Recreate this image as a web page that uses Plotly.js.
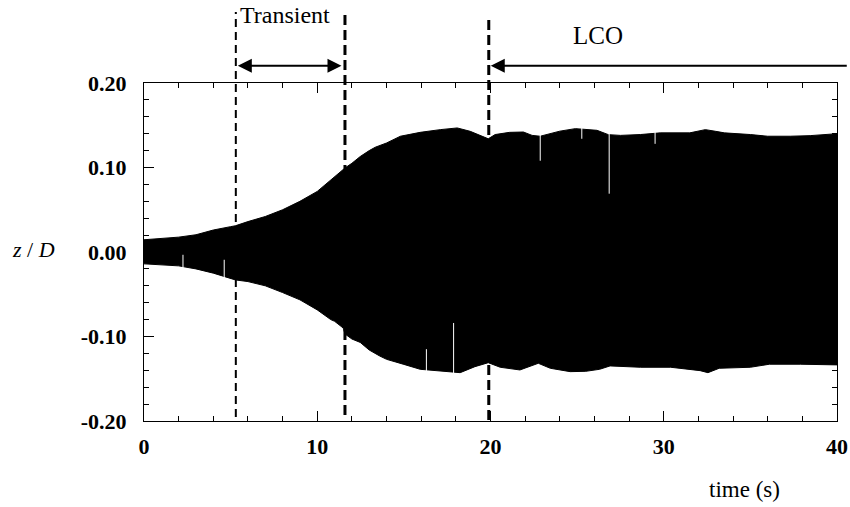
<!DOCTYPE html>
<html>
<head>
<meta charset="utf-8">
<script src="https://cdn.plot.ly/plotly-3.0.1.min.js"></script>
<style>html,body{margin:0;padding:0;background:#fff;}#chart{width:850px;height:507px;}</style>
</head>
<body>
<div id="chart"></div>
<script>
// Upper envelope of z/D oscillation (time s, value)
const upperTime = [0, 1, 2, 3, 4, 5, 5.27, 6, 7, 8, 9, 10, 10.78, 11, 11.6, 12, 12.48, 13, 13.35, 14, 14.2, 14.8, 15.3, 15.94, 17.1, 18.08, 18.83, 19.87, 20.27, 21.1, 21.9, 22.4, 22.87, 24.0, 24.9, 25.3, 26.15, 26.8, 27.5, 28.65, 29.8, 31.5, 32.4, 33.0, 33.5, 35, 36, 37.3, 38.45, 40];
const upperVal  = [0.0145, 0.016, 0.0176, 0.0204, 0.026, 0.030, 0.031, 0.036, 0.042, 0.050, 0.060, 0.0717, 0.0855, 0.089, 0.0994, 0.105, 0.113, 0.120, 0.124, 0.129, 0.131, 0.137, 0.139, 0.1416, 0.1448, 0.1468, 0.1428, 0.134, 0.139, 0.1416, 0.142, 0.138, 0.137, 0.143, 0.146, 0.1456, 0.144, 0.1389, 0.138, 0.139, 0.141, 0.141, 0.1448, 0.1428, 0.141, 0.139, 0.137, 0.137, 0.1377, 0.140];
// Lower envelope
const lowerTime = [0, 1, 2, 3, 4, 5.27, 6, 7, 8, 9, 10, 10.78, 11, 11.5, 11.6, 12, 12.48, 13, 13.6, 14, 14.8, 15, 15.94, 17.1, 18.25, 19.1, 19.87, 20.56, 21.7, 22.76, 23.45, 24.6, 25.5, 26.3, 26.9, 28.65, 30.4, 32.1, 32.55, 33.2, 35, 36.1, 37.9, 40];
const lowerVal  = [-0.014, -0.015, -0.0164, -0.020, -0.025, -0.033, -0.035, -0.040, -0.048, -0.0566, -0.0685, -0.080, -0.082, -0.090, -0.097, -0.103, -0.107, -0.116, -0.123, -0.127, -0.1317, -0.133, -0.1388, -0.1408, -0.1428, -0.1357, -0.131, -0.1364, -0.1396, -0.1317, -0.1376, -0.1416, -0.1412, -0.1388, -0.1348, -0.1364, -0.1364, -0.1404, -0.1428, -0.1376, -0.1364, -0.1328, -0.1328, -0.1336];
// Signal dropouts (white spikes)
const upperSpikeTime = [22.87, 25.27, 26.85, 29.5];
const upperSpikeTip  = [0.108, 0.134, 0.069, 0.128];
const upperSpikeBase = [0.137, 0.1456, 0.139, 0.141];
const lowerSpikeTime = [2.25, 4.63, 16.3, 17.87];
const lowerSpikeTip  = [-0.0033, -0.0092, -0.115, -0.084];
const lowerSpikeBase = [-0.017, -0.029, -0.139, -0.142];
// Phase boundaries (s)
const boundaries = [5.3, 11.6, 19.9];
const lcoArrowEnd = 40.65;
// Tick labels
const xTickVals = [0, 10, 20, 30, 40];
const xTickText = ['0', '10', '20', '30', '40'];
const yTickVals = [-0.2, -0.1, 0, 0.1, 0.2];
const yTickText = ['-0.20', '-0.10', '0.00', '0.10', '0.20'];

const envX = upperTime.concat(lowerTime.slice().reverse());
const envY = upperVal.concat(lowerVal.slice().reverse());

function spikeXY(ts, tips, bases, pad) {
  const x = [], y = [];
  ts.forEach((t, i) => { x.push(t, t, null); y.push(tips[i], bases[i] + pad, null); });
  return {x, y};
}
const su = spikeXY(upperSpikeTime, upperSpikeTip, upperSpikeBase, 0.004);
const sl = spikeXY(lowerSpikeTime, lowerSpikeTip, lowerSpikeBase, -0.004);

const traces = [
  {x: envX, y: envY, type: 'scatter', mode: 'lines', fill: 'toself', fillcolor: '#000',
   line: {color: '#000', width: 1}, hoverinfo: 'skip', showlegend: false},
  {x: su.x.concat(sl.x), y: su.y.concat(sl.y), type: 'scatter', mode: 'lines',
   line: {color: '#fff', width: 1}, hoverinfo: 'skip', showlegend: false, connectgaps: false}
];

const serif = 'Liberation Serif';
const tickFont = {family: serif, size: 22, color: '#000', weight: 700};

const dashTops = [1.210, 1.204, 1.192];
const dashBottoms = [0.012, 0.018, 0.003];
const dashWidths = [2, 3, 3];
const dashPatterns = ['8px,5px', '10px,5px', '10px,5px'];

const shapes = boundaries.map((b, i) => ({
  type: 'line', xref: 'x', yref: 'paper', x0: b, x1: b, y0: dashBottoms[i], y1: dashTops[i],
  line: {color: '#000', width: dashWidths[i], dash: dashPatterns[i]}, layer: 'above'
}));

const layout = {
  width: 850, height: 507,
  margin: {l: 144, r: 13, t: 83, b: 86},
  paper_bgcolor: '#fff', plot_bgcolor: '#fff',
  showlegend: false,
  font: {family: serif, color: '#000'},
  xaxis: {
    range: [0, 40], tickvals: xTickVals, ticktext: xTickText,
    ticks: 'inside', ticklen: 10, tickwidth: 1, tickcolor: '#000',
    showline: true, linecolor: '#000', linewidth: 1, mirror: 'ticks',
    showgrid: false, zeroline: false, tickfont: tickFont, ticklabelstandoff: 6,
    minor: {dtick: 2, ticks: 'inside', ticklen: 5, tickwidth: 1, tickcolor: '#000', showgrid: false}
  },
  yaxis: {
    range: [-0.2, 0.2], tickvals: yTickVals, ticktext: yTickText,
    ticks: 'inside', ticklen: 10, tickwidth: 1, tickcolor: '#000',
    showline: true, linecolor: '#000', linewidth: 1, mirror: 'ticks',
    showgrid: false, zeroline: false, tickfont: tickFont, ticklabelstandoff: 12,
    minor: {dtick: 0.02, ticks: 'inside', ticklen: 5, tickwidth: 1, tickcolor: '#000', showgrid: false}
  },
  shapes: shapes,
  annotations: [
    {xref: 'x', yref: 'paper', x: boundaries[0], y: 1.051, axref: 'x', ayref: 'pixel',
     ax: boundaries[1], ay: 0, text: '', showarrow: true, arrowside: 'end+start',
     arrowhead: 2, startarrowhead: 2, arrowsize: 1.4, startarrowsize: 1.4, arrowwidth: 2, arrowcolor: '#000',
     standoff: 2, startstandoff: 2},
    {xref: 'x', yref: 'paper', x: boundaries[2], y: 1.051, axref: 'x', ayref: 'pixel',
     ax: lcoArrowEnd, ay: 0, text: '', showarrow: true, arrowhead: 2, arrowsize: 1.4,
     arrowwidth: 2, arrowcolor: '#000', standoff: 2},
    {xref: 'x', yref: 'paper', x: boundaries[0], y: 1.201, xanchor: 'left', yanchor: 'middle',
     xshift: 2, text: 'Transient', showarrow: false, font: {family: serif, size: 24, color: '#000'}},
    {xref: 'x', yref: 'paper', x: 26.2, y: 1.142, xanchor: 'center', yanchor: 'middle',
     text: 'LCO', showarrow: false, font: {family: serif, size: 25, color: '#000'}},
    {xref: 'paper', yref: 'paper', x: -0.160, y: 0.506, xanchor: 'center', yanchor: 'middle',
     text: '<i>z</i> / <i>D</i>', showarrow: false, font: {family: serif, size: 22, color: '#000'}},
    {xref: 'paper', yref: 'paper', x: 0.867, y: -0.204, xanchor: 'center', yanchor: 'middle',
     text: 'time (s)', showarrow: false, font: {family: serif, size: 23, color: '#000'}}
  ]
};

Plotly.newPlot('chart', traces, layout, {displayModeBar: false, staticPlot: true});
</script>
</body>
</html>
